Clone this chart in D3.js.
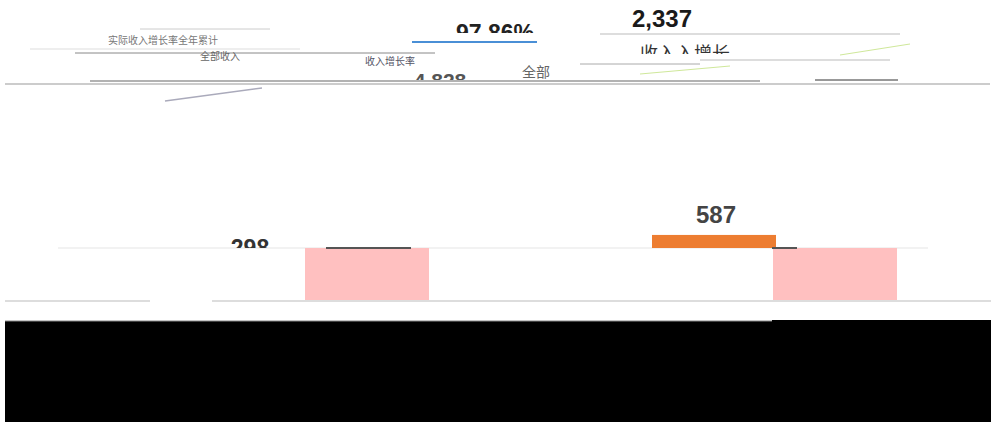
<!DOCTYPE html>
<html><head><meta charset="utf-8">
<script src="https://cdn.jsdelivr.net/npm/d3@7"></script>
<style>html,body{margin:0;padding:0;background:#fff;}svg{display:block;font-family:"Liberation Sans",Arial,sans-serif;}</style>
</head><body>
<svg id="c" width="991" height="422"></svg>
<script>
// Data
const categories = ["期初", "一月", "二月", "三月", "四月", "五月", "期末"];
const barIndex = [2, 5, 6];
const barBase = [0, 2337, 0];
const barValue = [2337, 587, 2337];
const barKind = ["total", "increase", "total"];
const barLabels = ["298", "587", ""];
const headerValues = ["2,337", "97.86%", "4,828"];
const headerTexts = ["实际收入增长率全年累计", "全部收入", "收入增长率", "收入入增长", "全部"];

const svg = d3.select("#c");
const W = 991, H = 422;
svg.append("rect").attr("width", W).attr("height", H).attr("fill", "#fff");

const x = d3.scaleLinear().domain([0, categories.length - 1]).range([71, 773]);
const bw = 124;
const y = d3.scaleLinear().domain([0, 2337]).range([300, 248]);
const colors = {total: "#ffc0c0", increase: "#ed7d31"};

// clip paths
const defs = svg.append("defs");
defs.append("clipPath").attr("id", "clipTop").append("rect").attr("x", 0).attr("y", 0).attr("width", W).attr("height", 33);
defs.append("clipPath").attr("id", "clipMid").append("rect").attr("x", 0).attr("y", 68).attr("width", W).attr("height", 12);
defs.append("clipPath").attr("id", "clipHead").append("rect").attr("x", 0).attr("y", 0).attr("width", W).attr("height", 54);
defs.append("clipPath").attr("id", "clipGrid").append("rect").attr("x", 0).attr("y", 0).attr("width", W).attr("height", y(2337));

// header glitch lines
const hl = svg.append("g").attr("stroke-linecap", "butt");
[[75, 435, 53, "#888", 1], [30, 300, 49, "#ddd", 1], [5, 990, 84, "#999", 1],
 [90, 760, 81, "#666", 1.2], [600, 900, 34, "#bbb", 1], [140, 270, 29, "#ccc", 1],
 [700, 890, 60, "#bbb", 1], [580, 700, 64, "#aaa", 1], [815, 898, 80, "#333", 1]
].forEach(d => hl.append("line").attr("x1", d[0]).attr("x2", d[1]).attr("y1", d[2]).attr("y2", d[2]).attr("stroke", d[3]).attr("stroke-width", d[4]));
svg.append("line").attr("x1", 412).attr("x2", 537).attr("y1", 42).attr("y2", 42).attr("stroke", "#4a8fd6").attr("stroke-width", 2);
svg.append("line").attr("x1", 165).attr("x2", 262).attr("y1", 101).attr("y2", 88).attr("stroke", "#aab").attr("stroke-width", 1.5);
svg.append("line").attr("x1", 840).attr("x2", 910).attr("y1", 55).attr("y2", 44).attr("stroke", "#cfe89a").attr("stroke-width", 1);
svg.append("line").attr("x1", 640).attr("x2", 730).attr("y1", 74).attr("y2", 66).attr("stroke", "#cfe89a").attr("stroke-width", 1);

// header texts
svg.append("text").attr("x", 662).attr("y", 27).attr("text-anchor", "middle").attr("font-size", 24).attr("font-weight", "bold").attr("fill", "#1a1a1a").text(headerValues[0]);
svg.append("text").attr("x", 495).attr("y", 41).attr("text-anchor", "middle").attr("font-size", 23).attr("font-weight", "bold").attr("fill", "#222").attr("clip-path", "url(#clipTop)").text(headerValues[1]);
svg.append("text").attr("x", 440).attr("y", 88).attr("text-anchor", "middle").attr("font-size", 21).attr("font-weight", "bold").attr("fill", "#555").attr("clip-path", "url(#clipMid)").text(headerValues[2]);
const ht = [[108, 44, 10, "#777", null], [200, 60, 10, "#666", null], [365, 65, 10, "#556", null], [640, 60, 18, "#333", "url(#clipHead)"], [522, 77, 14, "#666", null]];
ht.forEach((d, i) => svg.append("text").attr("x", d[0]).attr("y", d[1]).attr("font-size", d[2]).attr("fill", d[3]).attr("clip-path", d[4]).attr("font-family", "Noto Sans CJK SC").text(headerTexts[i]));

// gridline & baseline
svg.append("line").attr("x1", 58).attr("x2", 928).attr("y1", y(2337)).attr("y2", y(2337)).attr("stroke", "#eee").attr("stroke-width", 1.5);
svg.append("line").attr("x1", 5).attr("x2", 150).attr("y1", y(0) + 1).attr("y2", y(0) + 1).attr("stroke", "#ddd").attr("stroke-width", 2);
svg.append("line").attr("x1", 212).attr("x2", 991).attr("y1", y(0) + 1).attr("y2", y(0) + 1).attr("stroke", "#ddd").attr("stroke-width", 2);

// bars
const bars = barIndex.map((ix, i) => ({ix, base: barBase[i], val: barValue[i], kind: barKind[i], label: barLabels[i]}));
svg.append("g").selectAll("rect").data(bars).join("rect")
  .attr("x", d => x(d.ix) + (d.kind === "increase" ? -4 : 0))
  .attr("width", bw)
  .attr("y", d => y(d.base + d.val))
  .attr("height", d => y(d.base) - y(d.base + d.val))
  .attr("fill", d => colors[d.kind]);

// connectors
svg.append("line").attr("x1", x(2) + 21).attr("x2", x(2) + 106).attr("y1", y(2337)).attr("y2", y(2337)).attr("stroke", "#555").attr("stroke-width", 2);
svg.append("line").attr("x1", x(6) - 1).attr("x2", x(6) + 24).attr("y1", y(2337)).attr("y2", y(2337)).attr("stroke", "#555").attr("stroke-width", 2);

// labels
svg.append("text").attr("x", x(5) + 60).attr("y", y(2337 + 587) - 12).attr("text-anchor", "middle").attr("font-size", 24).attr("font-weight", "bold").attr("fill", "#444").text(bars[1].label);
svg.append("text").attr("x", x(2) - 55).attr("y", y(2337) + 8).attr("text-anchor", "middle").attr("font-size", 23).attr("font-weight", "bold").attr("fill", "#333").attr("clip-path", "url(#clipGrid)").text(bars[0].label);

// bottom black band
svg.append("rect").attr("x", 5).attr("y", 321).attr("width", 767).attr("height", 101).attr("fill", "#000");
svg.append("rect").attr("x", 772).attr("y", 320).attr("width", 219).attr("height", 102).attr("fill", "#000");
svg.append("line").attr("x1", 5).attr("x2", 772).attr("y1", 321).attr("y2", 321).attr("stroke", "#888").attr("stroke-width", 1);
</script>
</body></html>
